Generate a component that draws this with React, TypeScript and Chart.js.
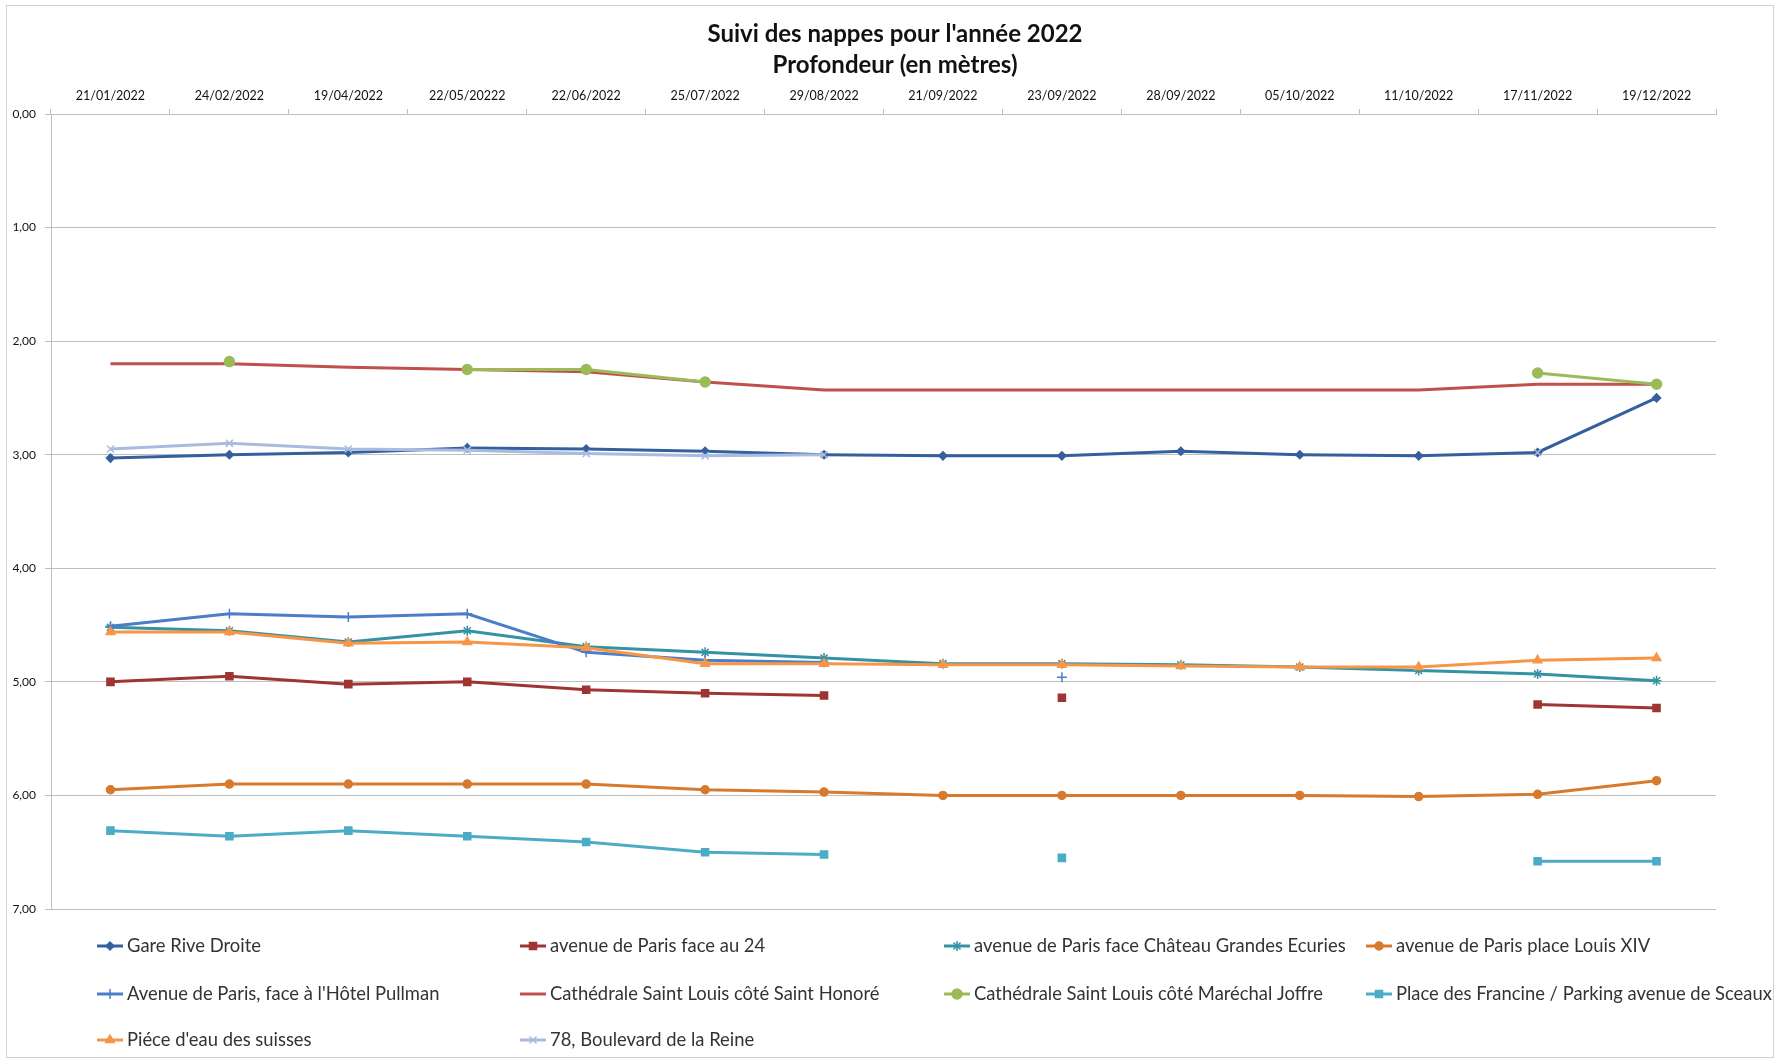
import React, { useEffect, useRef } from "react";
import { Chart, registerables } from "chart.js";
import { drawPoint } from "chart.js/helpers";

Chart.register(...registerables);

const categories = [
  "21/01/2022", "24/02/2022", "19/04/2022", "22/05/20222", "22/06/2022", "25/07/2022", "29/08/2022",
  "21/09/2022", "23/09/2022", "28/09/2022", "05/10/2022", "11/10/2022", "17/11/2022", "19/12/2022",
];

const titleLines = ["Suivi des nappes pour l'année 2022", "Profondeur (en mètres)"];

const gareRiveDroite = [3.03, 3.0, 2.98, 2.94, 2.95, 2.97, 3.0, 3.01, 3.01, 2.97, 3.0, 3.01, 2.98, 2.5];
const faceAu24 = [5.0, 4.95, 5.02, 5.0, 5.07, 5.1, 5.12, null, 5.14, null, null, null, 5.2, 5.23];
const chateauEcuries = [4.52, 4.55, 4.65, 4.55, 4.69, 4.74, 4.79, 4.84, 4.84, 4.85, 4.87, 4.9, 4.93, 4.99];
const placeLouisXIV = [5.95, 5.9, 5.9, 5.9, 5.9, 5.95, 5.97, 6.0, 6.0, 6.0, 6.0, 6.01, 5.99, 5.87];
const hotelPullman = [4.51, 4.4, 4.43, 4.4, 4.74, 4.81, 4.83, null, 4.96, null, null, null, null, null];
const saintHonore = [2.2, 2.2, 2.23, 2.25, 2.27, 2.36, 2.43, 2.43, 2.43, 2.43, 2.43, 2.43, 2.38, 2.38];
const marechalJoffre = [null, 2.18, null, 2.25, 2.25, 2.36, null, null, null, null, null, null, 2.28, 2.38];
const placeFrancine = [6.31, 6.36, 6.31, 6.36, 6.41, 6.5, 6.52, null, 6.55, null, null, null, 6.58, 6.58];
const eauSuisses = [4.56, 4.56, 4.66, 4.65, 4.7, 4.84, 4.84, 4.85, 4.85, 4.86, 4.87, 4.87, 4.81, 4.79];
const boulevardReine = [2.95, 2.9, 2.95, 2.96, 2.99, 3.01, 3.0, null, null, null, null, null, 2.98, null];

const seriesNames = [
  "Gare Rive Droite",
  "avenue de Paris face au 24",
  "avenue de Paris face Château Grandes Ecuries",
  "avenue de Paris place Louis XIV",
  "Avenue de Paris, face à l'Hôtel Pullman",
  "Cathédrale Saint Louis côté Saint Honoré",
  "Cathédrale Saint Louis côté Maréchal Joffre",
  "Place des Francine / Parking avenue de Sceaux",
  "Piéce d'eau des suisses",
  "78, Boulevard de la Reine",
];
const seriesValues = [
  gareRiveDroite, faceAu24, chateauEcuries, placeLouisXIV, hotelPullman,
  saintHonore, marechalJoffre, placeFrancine, eauSuisses, boulevardReine,
];
const seriesColors = [
  "#35609E", "#9E3533", "#3492A3", "#D87A2E", "#4A7EC9",
  "#C0504D", "#9BBB59", "#4BACC6", "#F79646", "#A9BCE0",
];
const seriesMarkers = ["rectRot", "rect", "star", "circle", "cross", "circle", "circle", "rect", "triangle", "crossRot"];
const seriesRadius = [4, 5, 5, 4, 5, 0, 5, 5, 5, 5];

const FONT = "Lato, 'Noto Sans', sans-serif";

const titlePlugin = {
  id: "customTitle",
  afterDraw(chart: any) {
    const ctx = chart.ctx;
    ctx.save();
    ctx.fillStyle = "#111";
    ctx.font = `bold 24px ${FONT}`;
    ctx.textAlign = "center";
    ctx.textBaseline = "middle";
    ctx.fillText(titleLines[0], 888, 28);
    ctx.fillText(titleLines[1], 888, 59);
    ctx.restore();
  },
};

const legendPlugin = {
  id: "gridLegend",
  afterDraw(chart: any) {
    const ctx = chart.ctx;
    const colX = [90, 513, 937, 1359];
    const rowY = [940, 988, 1034];
    ctx.save();
    chart.data.datasets.forEach((ds: any, i: number) => {
      const x = colX[i % 4];
      const y = rowY[Math.floor(i / 4)];
      ctx.strokeStyle = ds.borderColor;
      ctx.lineWidth = 3;
      ctx.beginPath();
      ctx.moveTo(x, y);
      ctx.lineTo(x + 26, y);
      ctx.stroke();
      if (ds.pointRadius > 0) {
        ctx.fillStyle = ds.borderColor;
        ctx.strokeStyle = ds.borderColor;
        ctx.lineWidth = 1.5;
        drawPoint(ctx, { pointStyle: ds.pointStyle, radius: ds.pointRadius, rotation: 0, borderWidth: 1.5 }, x + 13, y);
      }
      ctx.fillStyle = "#333";
      ctx.font = `18.4px ${FONT}`;
      ctx.textAlign = "left";
      ctx.textBaseline = "middle";
      ctx.fillText(ds.label, x + 30, y);
    });
    ctx.restore();
  },
};

export default function App() {
  const ref = useRef<HTMLCanvasElement | null>(null);
  useEffect(() => {
    if (!ref.current) return;
    const datasets = seriesNames.map((name, i) => ({
      label: name,
      data: seriesValues[i],
      borderColor: seriesColors[i],
      backgroundColor: seriesColors[i],
      pointBackgroundColor: seriesColors[i],
      pointBorderColor: seriesColors[i],
      pointStyle: seriesMarkers[i],
      pointRadius: seriesRadius[i],
      pointBorderWidth: 1.5,
      borderWidth: 3,
      tension: 0,
      spanGaps: false,
      order: seriesNames.length - i,
    }));
    const chart = new Chart(ref.current, {
      type: "line",
      data: { labels: categories, datasets },
      plugins: [titlePlugin, legendPlugin],
      options: {
        responsive: false,
        animation: false,
        layout: { padding: { top: 70, left: 0, right: 57, bottom: 148 } },
        plugins: { legend: { display: false }, title: { display: false }, tooltip: { enabled: false } },
        scales: {
          x: {
            type: "category",
            position: "top",
            offset: true,
            afterFit: (s: any) => { s.height = 38; },
            grid: { offset: true, drawOnChartArea: false, drawTicks: true, tickLength: 5, color: "#BFBFBF" },
            border: { display: true, color: "#BFBFBF" },
            ticks: { autoSkip: false, maxRotation: 0, padding: 6, color: "#111", font: { family: FONT, size: 12.5 } },
          },
          y: {
            reverse: true,
            min: 0,
            max: 7,
            afterFit: (s: any) => { s.width = 44; },
            grid: { color: "#BFBFBF", tickLength: 6 },
            border: { display: true, color: "#BFBFBF" },
            ticks: {
              stepSize: 1,
              padding: 9,
              color: "#111",
              font: { family: FONT, size: 12 },
              callback: (v: any) => Number(v).toFixed(2).replace(".", ","),
            },
          },
        },
      },
    });
    return () => chart.destroy();
  }, []);
  return (
    <div
      style={{
        position: "absolute",
        left: 6,
        top: 5,
        width: 1768,
        height: 1053,
        border: "1px solid #D0D0D0",
        boxSizing: "border-box",
        background: "#fff",
      }}
    >
      <canvas ref={ref} width={1766} height={1051} style={{ display: "block" }} />
    </div>
  );
}
